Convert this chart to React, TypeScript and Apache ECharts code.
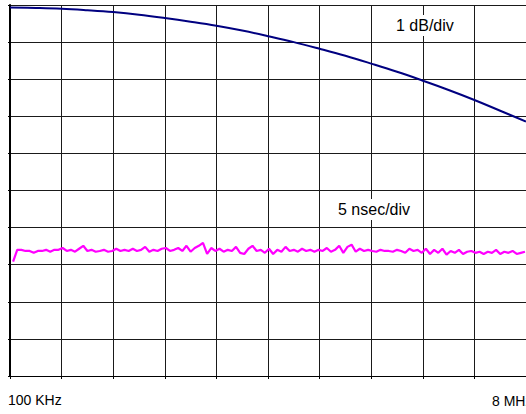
import React, { useEffect, useRef } from "react";
import * as echarts from "echarts";

// x axis: 10 divisions; tick labels only at both ends
const xTickLabels = ["100 KHz", "", "", "", "", "", "", "", "", "", "8 MHz"];

// Amplitude response (1 dB/div), sampled at each half division
const ampX = [0, 0.5, 1, 1.5, 2, 2.5, 3, 3.5, 4, 4.5, 5, 5.5, 6, 6.5, 7, 7.5, 8, 8.5, 9, 9.5, 10];
const ampY = [
  9.93, 9.92, 9.9, 9.86, 9.81, 9.74, 9.65, 9.55, 9.44, 9.31,
  9.16, 9.0, 8.82, 8.63, 8.42, 8.2, 7.96, 7.71, 7.44, 7.15, 6.86,
];

// Group delay (5 nsec/div), noisy trace
const delayStartX = 0.06;
const delayStepX = 0.08;
const delayY = [
  3.08, 3.4, 3.4, 3.37, 3.37, 3.32, 3.37, 3.37, 3.4, 3.35,
  3.4, 3.4, 3.45, 3.37, 3.4, 3.35, 3.43, 3.51, 3.37, 3.4,
  3.35, 3.37, 3.4, 3.35, 3.37, 3.43, 3.37, 3.4, 3.37, 3.43,
  3.37, 3.4, 3.48, 3.35, 3.4, 3.37, 3.43, 3.45, 3.37, 3.4,
  3.45, 3.37, 3.51, 3.35, 3.45, 3.51, 3.59, 3.29, 3.45, 3.37,
  3.43, 3.35, 3.4, 3.37, 3.48, 3.32, 3.29, 3.43, 3.51, 3.37,
  3.4, 3.32, 3.43, 3.29, 3.4, 3.35, 3.48, 3.37, 3.4, 3.35,
  3.43, 3.37, 3.4, 3.35, 3.4, 3.37, 3.45, 3.35, 3.4, 3.51,
  3.32, 3.48, 3.54, 3.35, 3.43, 3.37, 3.4, 3.37, 3.35, 3.4,
  3.37, 3.37, 3.35, 3.4, 3.37, 3.32, 3.43, 3.37, 3.4, 3.32,
  3.43, 3.29, 3.4, 3.32, 3.43, 3.27, 3.37, 3.32, 3.4, 3.29,
  3.35, 3.37, 3.32, 3.35, 3.29, 3.35, 3.32, 3.4, 3.29, 3.35,
  3.32, 3.37, 3.29, 3.32, 3.35,
];

const annotations = ["1 dB/div", "5 nsec/div"];

const FONT = "'Liberation Sans', Arial, sans-serif";

export default function App() {
  const ref = useRef<HTMLDivElement>(null);

  useEffect(() => {
    if (!ref.current) return;
    const chart = echarts.init(ref.current, undefined, { renderer: "svg" });

    const ampData = ampX.map((x, i) => [x, ampY[i]]);
    const delayData = delayY.map((y, i) => [delayStartX + i * delayStepX, y]);

    chart.setOption({
      animation: false,
      backgroundColor: "#ffffff",
      grid: { left: 10, top: 5, width: 520, height: 371, containLabel: false },
      xAxis: {
        type: "value",
        min: 0,
        max: 10,
        interval: 1,
        axisLine: { show: true, onZero: false, lineStyle: { color: "#000", width: 1 } },
        axisTick: { show: true, length: 3, lineStyle: { color: "#000" } },
        splitLine: { show: true, lineStyle: { color: "#1a1a1a", width: 1 } },
        axisLabel: {
          show: true,
          margin: 17,
          fontFamily: FONT,
          fontSize: 14,
          color: "#000",
          showMinLabel: true,
          showMaxLabel: false,
          alignMinLabel: "left",
          padding: [0, 0, 0, -2],
          formatter: (v: number) => (Math.round(v) === 0 ? xTickLabels[0] : ""),
        },
      },
      yAxis: {
        type: "value",
        min: 0,
        max: 10,
        interval: 1,
        axisLine: { show: true, lineStyle: { color: "#000", width: 2 } },
        axisTick: { show: true, length: 2, lineStyle: { color: "#000" } },
        splitLine: { show: true, lineStyle: { color: "#1a1a1a", width: 1 } },
        axisLabel: { show: false },
      },
      series: [
        {
          type: "line",
          data: ampData,
          smooth: 0.4,
          showSymbol: false,
          lineStyle: { color: "#000080", width: 2 },
          z: 5,
        },
        {
          type: "line",
          data: delayData,
          smooth: false,
          showSymbol: false,
          lineStyle: { color: "#ff00ff", width: 2.2 },
          z: 5,
        },
      ],
      graphic: [
        {
          type: "text",
          z: 51,
          x: 492,
          y: 394,
          style: { text: xTickLabels[10], font: `14px ${FONT}`, fill: "#000", verticalAlign: "top" },
        },
        { type: "rect", z: 50, shape: { x: 391, y: 15, width: 68, height: 21 }, style: { fill: "#fff" } },
        {
          type: "text",
          z: 51,
          x: 396,
          y: 25,
          style: { text: annotations[0], font: `16px ${FONT}`, fill: "#000", verticalAlign: "middle" },
        },
        { type: "rect", z: 50, shape: { x: 332, y: 199, width: 86, height: 21 }, style: { fill: "#fff" } },
        {
          type: "text",
          z: 51,
          x: 338,
          y: 209,
          style: { text: annotations[1], font: `16px ${FONT}`, fill: "#000", verticalAlign: "middle" },
        },
      ],
    });

    return () => chart.dispose();
  }, []);

  return (
    <div
      ref={ref}
      style={{ position: "fixed", left: 0, top: 0, width: 526, height: 414 }}
    />
  );
}
